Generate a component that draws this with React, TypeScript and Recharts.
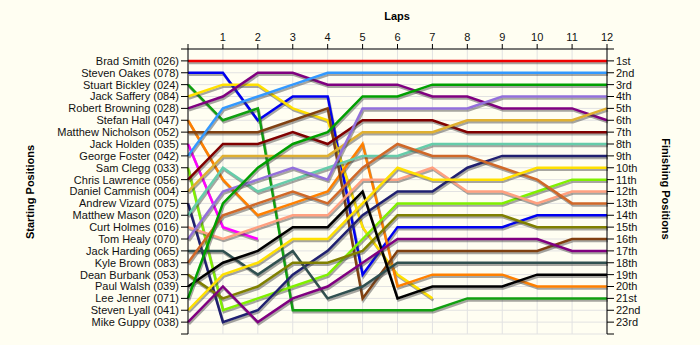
import React from 'react';
import { LineChart, Line, XAxis, YAxis, CartesianGrid } from 'recharts';

const laps = [0, 1, 2, 3, 4, 5, 6, 7, 8, 9, 10, 11, 12];

const drivers = [
  'Brad Smith (026)', 'Steven Oakes (078)', 'Stuart Bickley (024)', 'Jack Saffery (084)',
  'Robert Browning (028)', 'Stefan Hall (047)', 'Matthew Nicholson (052)', 'Jack Holden (035)',
  'George Foster (042)', 'Sam Clegg (033)', 'Chris Lawrence (056)', 'Daniel Cammish (004)',
  'Andrew Vizard (075)', 'Matthew Mason (020)', 'Curt Holmes (016)', 'Tom Healy (070)',
  'Jack Harding (065)', 'Kyle Brown (083)', 'Dean Burbank (053)', 'Paul Walsh (039)',
  'Lee Jenner (071)', 'Steven Lyall (041)', 'Mike Guppy (038)',
];

const finishLabels = [
  '1st', '2nd', '3rd', '4th', '5th', '6th', '7th', '8th', '9th', '10th', '11th', '12th',
  '13th', '14th', '15th', '16th', '17th', '18th', '19th', '20th', '21st', '22nd', '23rd',
];

// positions per lap (lap 0..12); null = retired
const bradSmith = [1, 1, 1, 1, 1, 1, 1, 1, 1, 1, 1, 1, 1];
const stevenOakes = [2, 2, 6, 4, 4, 19, 15, 15, 15, 15, 14, 14, 14];
const stuartBickley = [3, 6, 5, 22, 22, 22, 22, 22, 21, 21, 21, 21, 21];
const jackSaffery = [4, 3, 3, 5, 6, 15, 19, 21, null, null, null, null, null];
const robertBrowning = [5, 4, 2, 2, 3, 3, 3, 4, 4, 5, 5, 5, 6];
const stefanHall = [6, 11, 14, 13, 12, 8, 20, 19, 19, 19, 20, 20, 20];
const matthewNicholson = [7, 7, 7, 6, 5, 21, 17, 17, 17, 17, 17, 16, 16];
const jackHolden = [8, 15, 16, null, null, null, null, null, null, null, null, null, null];
const georgeFoster = [9, 5, 4, 3, 2, 2, 2, 2, 2, 2, 2, 2, 2];
const samClegg = [10, 22, 21, 20, 19, 16, 13, 13, 13, 13, 12, 11, 11];
const chrisLawrence = [11, 8, 8, 7, 8, 6, 6, 6, 7, 7, 7, 7, 7];
const danielCammish = [12, 9, 9, 9, 9, 7, 7, 7, 6, 6, 6, 6, 5];
const andrewVizard = [13, 23, 22, 19, 17, 14, 12, 12, 10, 9, 9, 9, 9];
const matthewMason = [14, 10, 12, 11, 10, 9, 9, 8, 8, 8, 8, 8, 8];
const curtHolmes = [15, 16, 15, 14, 14, 11, 11, 10, 12, 12, 13, 12, 12];
const tomHealy = [16, 12, 11, 10, 11, 5, 5, 5, 5, 4, 4, 4, 4];
const jackHarding = [17, 17, 19, 17, 21, 20, 18, 18, 18, 18, 18, 18, 18];
const kyleBrown = [18, 14, 13, 12, 13, 10, 8, 9, 9, 10, 11, 13, 13];
const deanBurbank = [19, 21, 20, 18, 18, 17, 14, 14, 14, 14, 15, 15, 15];
const paulWalsh = [20, 18, 17, 15, 15, 12, 21, 20, 20, 20, 19, 19, 19];
const leeJenner = [21, 13, 10, 8, 7, 4, 4, 3, 3, 3, 3, 3, 3];
const stevenLyall = [22, 19, 18, 16, 16, 13, 10, 11, 11, 11, 10, 10, 10];
const mikeGuppy = [23, 20, 23, 21, 20, 18, 16, 16, 16, 16, 16, 17, 17];

const series = [
  bradSmith, stevenOakes, stuartBickley, jackSaffery, robertBrowning, stefanHall,
  matthewNicholson, jackHolden, georgeFoster, samClegg, chrisLawrence, danielCammish,
  andrewVizard, matthewMason, curtHolmes, tomHealy, jackHarding, kyleBrown, deanBurbank,
  paulWalsh, leeJenner, stevenLyall, mikeGuppy,
];

const colors = [
  '#F00000', '#0000F0', '#10A010', '#FFE000', '#800080', '#FF8000',
  '#804010', '#FF00FF', '#3399FF', '#80F000', '#800000', '#E0B030',
  '#202070', '#66CCAA', '#FFA080', '#9370DB', '#305050', '#D06828', '#808000',
  '#000000', '#00A000', '#FFE000', '#800080',
];

const posTicks = Array.from({ length: 25 }, (_, i) => i);

const data = laps.map((lap, i) => {
  const row: Record<string, number | null> = { lap };
  series.forEach((s, k) => {
    row['d' + k] = s[i] ?? null;
  });
  return row;
});

const font = '"Liberation Sans", Arial, sans-serif';
const tickStyle = { fontSize: 11, fill: '#111', fontFamily: font };

export default function App() {
  return (
    <div style={{ position: 'absolute', left: 0, top: 0, width: 700, height: 345, background: '#FFFEF2', fontFamily: font }}>
      <style>{`.recharts-line-curve { filter: drop-shadow(1px 2px 0.6px rgba(60,60,60,0.45)); }`}</style>
      <LineChart width={700} height={345} data={data} margin={{ top: 0, right: 0, bottom: 11, left: 0 }}>
        <CartesianGrid stroke="#E2E2E2" yAxisId="left" />
        <XAxis
          dataKey="lap"
          type="number"
          orientation="top"
          domain={[0, 12]}
          ticks={laps}
          interval={0}
          height={49}
          tickSize={5}
          tickMargin={3}
          tickFormatter={(v: number) => (v === 0 ? '' : String(v))}
          stroke="#000"
          tick={tickStyle}
        />
        <YAxis
          yAxisId="left"
          type="number"
          domain={[0, 24]}
          reversed
          ticks={posTicks}
          interval={0}
          width={188}
          tickSize={7}
          tickMargin={2}
          tickFormatter={(v: number) => drivers[v - 1] ?? ''}
          stroke="#000"
          tick={tickStyle}
        />
        <YAxis
          yAxisId="right"
          orientation="right"
          type="number"
          domain={[0, 24]}
          reversed
          ticks={posTicks}
          interval={0}
          width={93}
          tickSize={7}
          tickMargin={2}
          tickFormatter={(v: number) => finishLabels[v - 1] ?? ''}
          stroke="#000"
          tick={tickStyle}
        />
        <Line
          yAxisId="right"
          dataKey="d0"
          stroke="transparent"
          strokeWidth={0}
          dot={false}
          activeDot={false}
          isAnimationActive={false}
        />
        {series.map((_, k) => (
          <Line
            key={k}
            yAxisId="left"
            dataKey={'d' + k}
            stroke={colors[k]}
            strokeWidth={2.5}
            dot={false}
            activeDot={false}
            type="linear"
            connectNulls={false}
            isAnimationActive={false}
          />
        ))}
      </LineChart>
      <div style={{ position: 'absolute', left: 347, top: 10, width: 100, textAlign: 'center', fontSize: 11, fontWeight: 'bold', color: '#000' }}>Laps</div>
      <div style={{ position: 'absolute', left: 30, top: 193, width: 0, height: 0 }}>
        <div style={{ position: 'absolute', left: -80, top: -7, width: 160, textAlign: 'center', fontSize: 11, fontWeight: 'bold', transform: 'rotate(-90deg)', color: '#000' }}>Starting Positions</div>
      </div>
      <div style={{ position: 'absolute', left: 666, top: 190, width: 0, height: 0 }}>
        <div style={{ position: 'absolute', left: -80, top: -7, width: 160, textAlign: 'center', fontSize: 11, fontWeight: 'bold', transform: 'rotate(90deg)', color: '#000' }}>Finishing Positions</div>
      </div>
    </div>
  );
}
